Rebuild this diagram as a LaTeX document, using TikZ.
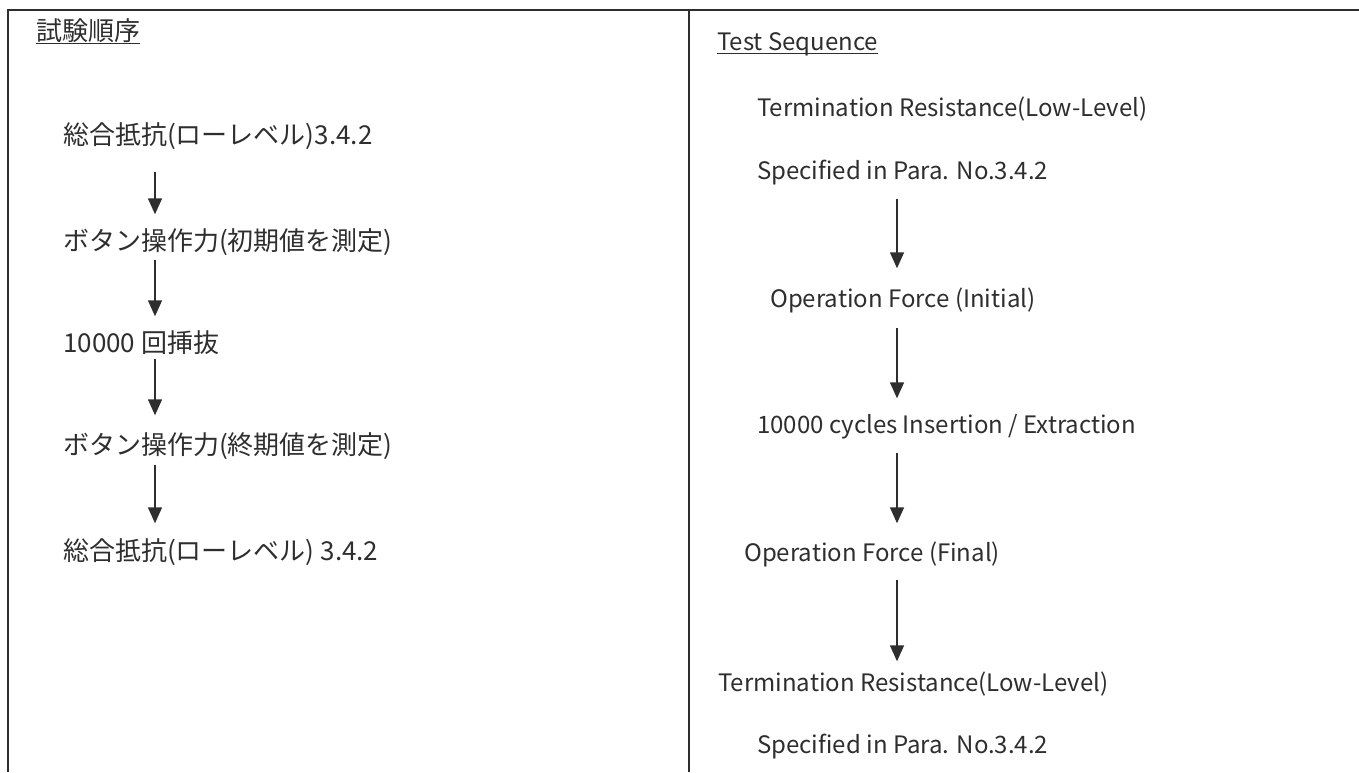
\documentclass[tikz,border=0pt]{standalone}
\usepackage{fontspec}
\setmainfont{Noto Sans CJK JP}
\usetikzlibrary{arrows.meta}
\definecolor{ink}{HTML}{2E2E2E}

\begin{document}
\begin{tikzpicture}[
        x=1pt, y=-1pt,
        font=\fontsize{24}{28}\selectfont,
        entry/.style={anchor=west, inner sep=0pt, text=ink,
            text height=20pt, text depth=3pt},
        jp/.style={entry, font=\fontsize{26}{30}\selectfont,
            text height=22pt, text depth=3pt},
        flow/.style={draw=ink, line width=1.4pt,
            -{Triangle[width=14pt,length=16pt]}},
        frame/.style={draw=ink, line width=1.2pt},
        uline/.style={draw=ink, line width=1.5pt}
    ]
        \useasboundingbox (0,0) rectangle (1359,772);

        % Rahmen
        \draw[frame] (8,772) -- (8,10) -- (1359,10);
        \draw[frame] (689,10) -- (689,772);

        % linke Spalte
        \node[jp] (tj) at (36,31) {試験順序};
        \draw[uline] (tj.south west) -- (tj.south east);
        \node[jp] (j1) at (63,135) {総合抵抗(ローレベル)3.4.2};
        \node[jp] (j2) at (63,241) {ボタン操作力(初期値を測定)};
        \node[jp] (j3) at (63,343) {10000 回挿抜};
        \node[jp] (j4) at (63,445) {ボタン操作力(終期値を測定)};
        \node[jp] (j5) at (63,551) {総合抵抗(ローレベル) 3.4.2};

        % rechte Spalte
        \node[entry] (te) at (717,42) {Test Sequence};
        \draw[uline] (te.south west) -- (te.south east);
        \node[entry] (e1) at (757,108) {Termination Resistance(Low-Level)};
        \node[entry] (e2) at (757,171) {Specified in Para. No.3.4.2};
        \node[entry] (e3) at (770,299) {Operation Force (Initial)};
        \node[entry] (e4) at (757,425) {10000 cycles Insertion / Extraction};
        \node[entry] (e5) at (744,553) {Operation Force (Final)};
        \node[entry] (e6) at (718,683) {Termination Resistance(Low-Level)};
        \node[entry] (e7) at (757,745) {Specified in Para. No.3.4.2};

        % Pfeile
        \coordinate (lx) at (155,0);
        \coordinate (rx) at (897,0);
        \draw[flow, shorten <=24pt, shorten >=14pt] (j1.south -| lx) -- (j2.north -| lx);
        \draw[flow, shorten <=6pt, shorten >=14pt] (j2.south -| lx) -- (j3.north -| lx);
        \draw[flow, shorten <=3pt, shorten >=17pt] (j3.south -| lx) -- (j4.north -| lx);
        \draw[flow, shorten <=7pt, shorten >=15pt] (j4.south -| lx) -- (j5.north -| lx);
        \draw[flow, shorten <=16pt, shorten >=19pt] (e2.south -| rx) -- (e3.north -| rx);
        \draw[flow, shorten <=17pt, shorten >=15pt] (e3.south -| rx) -- (e4.north -| rx);
        \draw[flow, shorten <=16pt, shorten >=18pt] (e4.south -| rx) -- (e5.north -| rx);
        \draw[flow, shorten <=15pt, shorten >=10pt] (e5.south -| rx) -- (e6.north -| rx);
    \end{tikzpicture}
\end{document}
